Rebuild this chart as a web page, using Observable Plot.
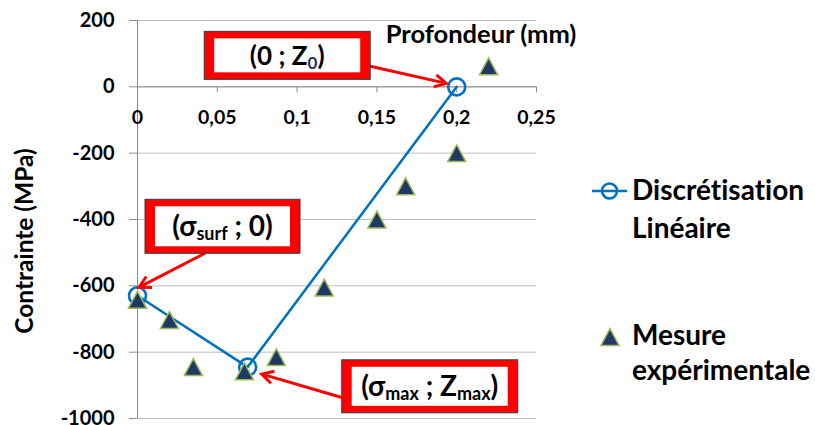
<!DOCTYPE html>
<html><head><meta charset="utf-8">
<script src="https://cdn.jsdelivr.net/npm/d3@7"></script>
<script src="https://cdn.jsdelivr.net/npm/@observablehq/plot@0.6"></script>
<style>
html,body{margin:0;padding:0;background:#fff;}
#chart{width:815px;height:425px;overflow:hidden;}
svg text{font-variant-ligatures:none;}
</style></head><body><div id="chart"></div>
<script>
// ---- data ----
const linDepth = [0, 0.069, 0.2];
const linStress = [-630, -845, 0];
const expDepth = [0, 0.02, 0.035, 0.067, 0.087, 0.117, 0.15, 0.168, 0.2, 0.22];
const expStress = [-642, -703, -845, -858, -815, -605, -400, -300, -200, 62];
const xTicks = [0, 0.05, 0.1, 0.15, 0.2, 0.25];
const yTicks = [200, 0, -200, -400, -600, -800, -1000];
const xLabel = "Profondeur (mm)";
const yLabel = "Contrainte (MPa)";
const seriesNames = [["Discrétisation", "Linéaire"], ["Mesure", "expérimentale"]];
const annTexts = [
  [["(0 ; Z"], ["0", "sub"], [")"]],
  [["(σ"], ["surf", "sub"], [" ; 0)"]],
  [["(σ"], ["max", "sub"], [" ; Z"], ["max", "sub"], [")"]]
];
const annTargets = [2, 0, 1]; // index into linear series

// ---- styles / layout ----
const FONT = "Lato, 'Open Sans', sans-serif";
const BLUE = "#0070C0", NAVY = "#1F3864", GREEN = "#9BBB59", RED = "#FF0000";
const AXIS = "#8C8C8C", GRID = "#BEBEBE";
const annLayout = [
  {box: [-252, -55, 166, 48], from: [-86, -20], to: [-10, -3], size: 26},
  {box: [8, -96, 155, 54], from: [68, -42], to: [2, -8], size: 28},
  {box: [94.6, -6.8, 176, 53], from: [94.6, 30.9], to: [14.6, 7.5], size: 28}
];

const lin = linDepth.map((d, i) => ({depth: d, stress: linStress[i]}));
const exp = expDepth.map((d, i) => ({depth: d, stress: expStress[i]}));

const triSymbol = {
  draw(ctx, size) {
    const r = Math.sqrt(size / Math.PI);
    const hw = r * 1.29, hh = r * 1.2;
    ctx.moveTo(0, -hh); ctx.lineTo(hw, hh); ctx.lineTo(-hw, hh); ctx.closePath();
  }
};

const plot = Plot.plot({
  width: 815, height: 425,
  marginLeft: 137, marginRight: 279, marginTop: 20, marginBottom: 7,
  x: {domain: [0, 0.25], axis: null},
  y: {domain: [-1000, 200]},
  style: {fontFamily: FONT, background: "#fff", color: "#000", overflow: "visible"},
  marks: [
    Plot.gridY(yTicks, {stroke: GRID, strokeOpacity: 1, strokeWidth: 1}),
    Plot.ruleY([0], {stroke: AXIS, strokeWidth: 1}),
    Plot.ruleX([0], {stroke: AXIS, strokeWidth: 1}),
    Plot.axisY(yTicks, {tickSize: 8, tickPadding: 15, tickFormat: d => String(d), stroke: AXIS, fill: "#000",
      fontSize: 20, fontWeight: "bold", label: null}),
    Plot.ruleX(xTicks.slice(1), {x: d => d, y1: () => 0, y2: () => 0, insetBottom: -6, stroke: AXIS}),
    Plot.text(xTicks, {x: d => d, y: () => 0, dy: 31, text: d => String(d).replace(".", ","),
      fontSize: 19.5, fontWeight: "bold", fill: "#000"}),
    Plot.text([xLabel], {frameAnchor: "top", textAnchor: "middle", lineAnchor: "middle", text: d => d,
      dx: 144, dy: 14, fontSize: 25.5, fontWeight: "bold", fill: "#000"}),
    Plot.text([yLabel], {frameAnchor: "left", textAnchor: "middle", lineAnchor: "middle", text: d => d, rotate: -90,
      dx: -112, dy: 21.5, fontSize: 24.5, fontWeight: "bold", fill: "#000"}),
    Plot.line(lin, {x: "depth", y: "stress", stroke: BLUE, strokeWidth: 2.5}),
    Plot.dot(lin, {x: "depth", y: "stress", r: 8.5, stroke: BLUE, strokeWidth: 2.6, fill: "none"}),
    Plot.dot(exp, {x: "depth", y: "stress", symbol: triSymbol, r: 7, fill: NAVY, stroke: GREEN, strokeWidth: 1.5})
  ]
});
document.getElementById("chart").appendChild(plot);

const svg = d3.select(plot);
const X = plot.scale("x"), Y = plot.scale("y");

// ---- annotations ----
const ann = svg.append("g");
function arrow(g, x1, y1, x2, y2) {
  const a = Math.atan2(y2 - y1, x2 - x1), L = 13, sp = 0.5;
  g.append("line").attr("x1", x1).attr("y1", y1).attr("x2", x2 - 2 * Math.cos(a)).attr("y2", y2 - 2 * Math.sin(a))
    .attr("stroke", RED).attr("stroke-width", 3);
  g.append("path")
    .attr("d", `M${x2 - L * Math.cos(a - sp)},${y2 - L * Math.sin(a - sp)}L${x2},${y2}L${x2 - L * Math.cos(a + sp)},${y2 - L * Math.sin(a + sp)}`)
    .attr("fill", "none").attr("stroke", RED).attr("stroke-width", 3).attr("stroke-linejoin", "miter");
}
annTexts.forEach((parts, k) => {
  const p = lin[annTargets[k]];
  const tx = X.apply(p.depth), ty = Y.apply(p.stress);
  const L = annLayout[k];
  arrow(ann, tx + L.from[0], ty + L.from[1], tx + L.to[0], ty + L.to[1]);
  const [bx, by, bw, bh] = L.box;
  const x0 = tx + bx, y0 = ty + by;
  ann.append("rect").attr("x", x0).attr("y", y0).attr("width", bw).attr("height", bh)
    .attr("fill", RED).attr("stroke", "#3a3a3a").attr("stroke-width", 1);
  ann.append("rect").attr("x", x0 + 10).attr("y", y0 + 7).attr("width", bw - 20).attr("height", bh - 14)
    .attr("fill", "#fff");
  const t = ann.append("text").attr("x", x0 + bw / 2).attr("y", y0 + bh / 2 + 9.5)
    .attr("text-anchor", "middle").attr("font-family", FONT).attr("font-weight", "bold")
    .attr("font-size", L.size).attr("fill", "#000");
  let shifted = false;
  parts.forEach(([s, kind]) => {
    const ts = t.append("tspan").text(s);
    if (kind === "sub") {
      ts.attr("font-size", Math.round(L.size * 0.66)).attr("dy", shifted ? 0 : 4);
      if (k === 0) ts.attr("fill", NAVY);
      shifted = true;
    } else {
      ts.attr("dy", shifted ? -4 : 0);
      shifted = false;
    }
  });
});

// ---- legend ----
const lg = svg.append("g").attr("font-family", FONT).attr("font-weight", "bold").attr("font-size", 28)
  .attr("fill", "#000").attr("text-anchor", "start");
lg.append("line").attr("x1", 592).attr("x2", 627).attr("y1", 191).attr("y2", 191).attr("stroke", BLUE).attr("stroke-width", 2.5);
lg.append("circle").attr("cx", 609.5).attr("cy", 191).attr("r", 7.5).attr("fill", "none").attr("stroke", BLUE).attr("stroke-width", 2.6);
lg.append("path").attr("transform", "translate(610,337)").attr("d", d3.symbol(triSymbol, Math.PI * 49)())
  .attr("fill", NAVY).attr("stroke", GREEN).attr("stroke-width", 1.5);
const legBase = [[200, 238], [345, 380]];
seriesNames.forEach((lines, i) => lines.forEach((s, j) => {
  lg.append("text").attr("x", 632).attr("y", legBase[i][j]).attr("text-anchor", "start").text(s);
}));
</script></body></html>
